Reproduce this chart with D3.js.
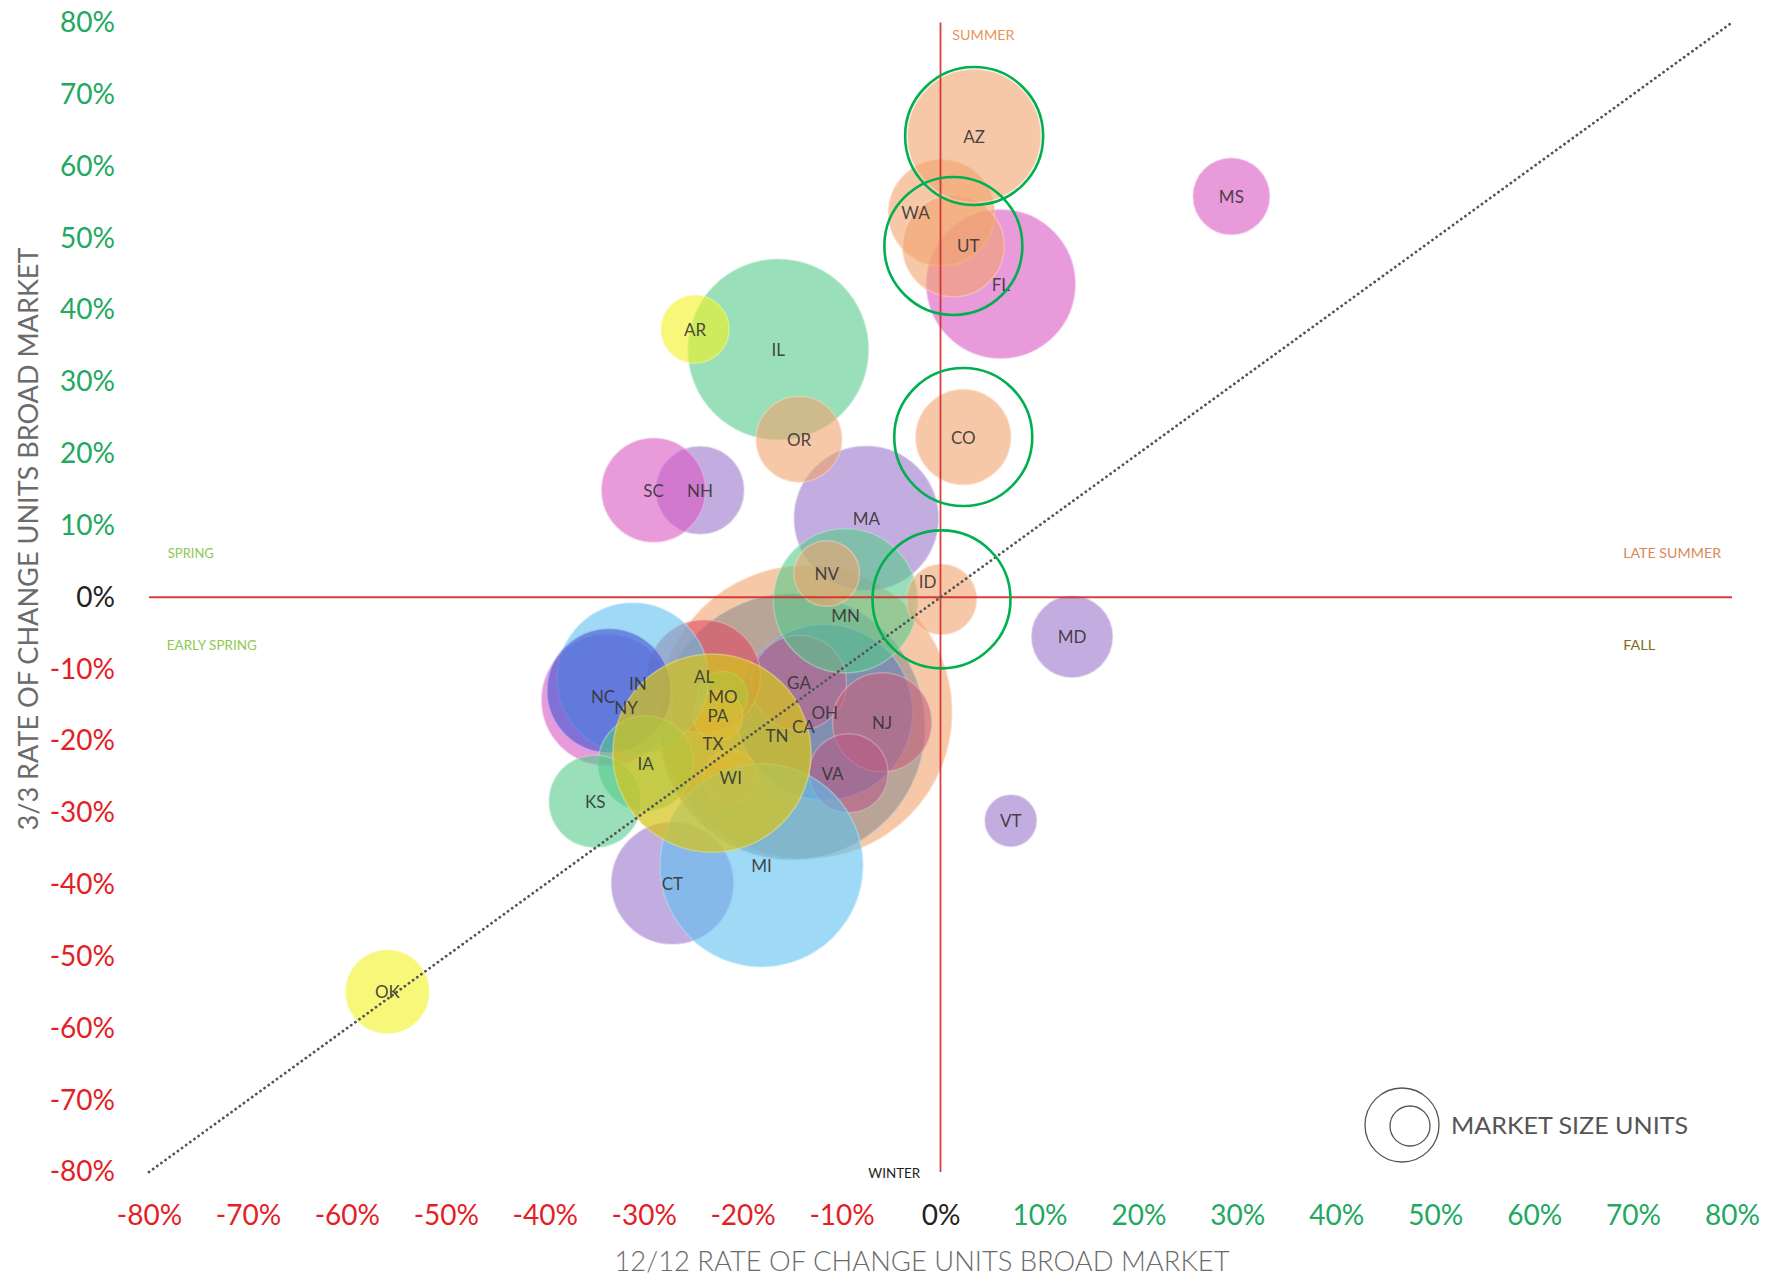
<!DOCTYPE html>
<html>
<head>
<meta charset="utf-8">
<script src="https://cdn.jsdelivr.net/npm/d3@7"></script>
<style>
  body { margin: 0; background: #fff; }
  #chart { font-family: Lato, "Open Sans", sans-serif; }
</style>
</head>
<body>
<div id="chart"></div>
<script>
// state codes, 12/12 change (x, %), 3/3 change (y, %), market size (units, relative)
// listed in paint order (later ones sit on top)
const states = ["CA","TN","OH","GA","NJ","VA","AL","MO","PA","WI",
  "IL","MA","MN","NY","IN","NC","IA","KS","CT","MI","TX",
  "FL","WA","UT","AZ","NV","ID","OR","CO","NH","SC","AR","MS","MD","VT","OK"];
const change12 = [-13.65, -15.0, -11.7, -14.3, -5.9, -9.3, -23.9, -22.0, -22.5, -21.2,
  -16.4, -7.5, -9.6, -33.7, -31.1, -33.5, -29.8, -34.9, -27.1, -18.1, -23.1,
  6.1, 0.1, 1.3, 3.4, -11.5, 0.1, -14.3, 2.3, -24.3, -29.0, -24.8, 29.4, 13.3, 7.1, -55.9];
const change3 = [-16.0, -18.0, -16.0, -11.9, -17.4, -24.5, -11.0, -13.8, -16.5, -25.1,
  34.5, 11.0, -0.5, -14.3, -11.3, -13.0, -23.1, -28.4, -39.8, -37.3, -21.7,
  43.6, 53.5, 48.9, 64.2, 3.3, -0.3, 22.0, 22.3, 14.9, 14.9, 37.3, 55.8, -5.5, -31.1, -54.9];
const marketSize = [83.8, 69.1, 30.2, 8.8, 9.6, 6.1, 12.4, 2.4, 2.4, 2.9,
  31.8, 20.3, 20.3, 16.7, 22.3, 15.0, 8.8, 8.3, 14.5, 40.2, 38.4,
  21.6, 11.0, 10.1, 17.3, 4.2, 4.8, 7.2, 8.8, 7.5, 10.5, 4.5, 5.7, 6.4, 2.6, 6.8];
const highlighted = ["AZ", "UT", "CO", "ID"];
const xTicks = [-80, -70, -60, -50, -40, -30, -20, -10, 0, 10, 20, 30, 40, 50, 60, 70, 80];
const yTicks = [-80, -70, -60, -50, -40, -30, -20, -10, 0, 10, 20, 30, 40, 50, 60, 70, 80];
const seasonNames = ["SUMMER", "SPRING", "EARLY SPRING", "LATE SUMMER", "FALL", "WINTER"];

const palette = {
  peach: "#f2a36c", lavender: "#9b74c9", pink: "#d856c3", mint: "#55c98a", yellow: "#f2f220",
  gold: "#d6c41c", sky: "#5dc1f0", indigo: "#3f55d2", red: "#e04a60", gray: "#8e8e8e",
  steel: "#5a80c0", rose: "#c0608a", wine: "#c8607a", plum: "#b85a85"
};
const paletteOpacity = { gold: 0.72 };
const stateColor = {
  AZ: "peach", MS: "pink", WA: "peach", UT: "peach", FL: "pink", AR: "yellow", IL: "mint", OR: "peach",
  CO: "peach", SC: "pink", NH: "lavender", MA: "lavender", NV: "peach", MN: "mint", ID: "peach",
  MD: "lavender", VT: "lavender", OK: "yellow", CA: "peach", OH: "steel", TX: "gold", MI: "sky",
  CT: "lavender", KS: "mint", IN: "sky", NC: "indigo", NY: "pink", AL: "red", PA: "peach", MO: "mint",
  WI: "peach", IA: "mint", TN: "gray", GA: "rose", NJ: "wine", VA: "plum"
};
// label nudges (px) where the label is not centred on its bubble
const labelNudge = {
  WA: [-26, 0], UT: [15, 0], MN: [0, 15], ID: [-14, -18], CA: [-2, 14], TN: [-15, 9],
  VA: [-16, 0], NY: [19, 8], NC: [-6, 6], TX: [1, -10], IN: [5, 5]
};
const seasonLayout = {
  "SUMMER": { x: 1.2, y: 78.2, w: 62, color: "#e8955a" },
  "SPRING": { x: -78.1, y: 6.1, w: 46, color: "#8fc850" },
  "EARLY SPRING": { x: -78.2, y: -6.7, w: 90, color: "#8fc850" },
  "LATE SUMMER": { x: 69.0, y: 6.1, w: 98, color: "#d9895a" },
  "FALL": { x: 69.0, y: -6.7, w: 32, color: "#7d6e1e" },
  "WINTER": { x: -7.3, y: -80.1, w: 52, color: "#222" }
};

class BubbleChart {
  constructor() {
    this.svg = null;
    this.width = 1767;
    this.height = 1276;
    this.data = [];
  }

  init() {
    var vm = this;
    vm.svg = d3.select("#chart").append("svg")
      .attr("width", vm.width).attr("height", vm.height);
    vm.x = d3.scaleLinear().domain([-80, 80]).range([149, 1732]);
    vm.y = d3.scaleLinear().domain([-80, 80]).range([1172, 22.5]);
    vm.r = d3.scaleSqrt().domain([0, 100]).range([0, 160]);
    vm.data = states.map((s, i) => ({ state: s, x: change12[i], y: change3[i], size: marketSize[i] }));
    vm.render();
  }

  render() {
    var vm = this;
    var x = vm.x, y = vm.y;
    var tickColor = d => d > 0 ? "#22a85f" : d < 0 ? "#e41e26" : "#222";
    var nudge = (d, i) => labelNudge[d.state] ? labelNudge[d.state][i] : 0;
    var colorOf = d => palette[stateColor[d.state]];

    // axes
    var yAxis = vm.svg.append("g").attr("transform", "translate(123,0)")
      .call(d3.axisLeft(y).tickValues(yTicks).tickSize(0).tickPadding(8).tickFormat(d => d + "%"));
    var xAxis = vm.svg.append("g").attr("transform", `translate(0,${y(-80)})`)
      .call(d3.axisBottom(x).tickValues(xTicks).tickSize(0).tickPadding(33).tickFormat(d => d + "%"));
    [yAxis, xAxis].forEach(g => {
      g.select(".domain").remove();
      g.selectAll("text")
        .style("font-family", "Lato, 'Open Sans', sans-serif")
        .style("font-size", "28px")
        .attr("fill", tickColor);
    });

    vm.svg.append("text")
      .attr("transform", "translate(27,539) rotate(-90)")
      .attr("text-anchor", "middle").attr("dominant-baseline", "central")
      .attr("textLength", 583).attr("lengthAdjust", "spacingAndGlyphs")
      .style("font-size", "27px").attr("fill", "#6b6b6b")
      .text("3/3 RATE OF CHANGE UNITS BROAD MARKET");
    vm.svg.append("text")
      .attr("x", 922).attr("y", 1260)
      .attr("text-anchor", "middle").attr("dominant-baseline", "central")
      .attr("textLength", 615).attr("lengthAdjust", "spacingAndGlyphs")
      .style("font-size", "28px").style("font-weight", 300).attr("fill", "#6b6b6b")
      .text("12/12 RATE OF CHANGE UNITS BROAD MARKET");

    // bubbles, in data order
    vm.svg.append("g").selectAll("circle").data(vm.data).join("circle")
      .attr("cx", d => x(d.x)).attr("cy", d => y(d.y)).attr("r", d => vm.r(d.size))
      .attr("fill", colorOf)
      .attr("fill-opacity", d => paletteOpacity[stateColor[d.state]] || 0.6)
      .attr("stroke", d => d3.interpolateRgb("#fff", colorOf(d))(0.45))
      .attr("stroke-opacity", 0.5).attr("stroke-width", 1.5);

    // quadrant axes
    vm.svg.append("line")
      .attr("x1", x(-80)).attr("x2", x(80)).attr("y1", y(0)).attr("y2", y(0))
      .attr("stroke", "#d22a2a").attr("stroke-width", 1.8).attr("stroke-opacity", 0.9);
    vm.svg.append("line")
      .attr("x1", x(0)).attr("x2", x(0)).attr("y1", y(80)).attr("y2", y(-80))
      .attr("stroke", "#d22a2a").attr("stroke-width", 1.8).attr("stroke-opacity", 0.9);

    vm.svg.append("line")
      .attr("x1", x(-80)).attr("y1", y(-80)).attr("x2", x(80)).attr("y2", y(80))
      .attr("stroke", "#555").attr("stroke-width", 2.8)
      .attr("stroke-dasharray", "0.1 5").attr("stroke-linecap", "round");

    // state labels
    vm.svg.append("g").selectAll("text").data(vm.data).join("text")
      .attr("x", d => x(d.x) + nudge(d, 0))
      .attr("y", d => y(d.y) + nudge(d, 1))
      .attr("text-anchor", "middle").attr("dominant-baseline", "central")
      .style("font-size", "17px").attr("fill", "#333").attr("fill-opacity", 0.9)
      .text(d => d.state);

    // green rings on the highlighted markets
    vm.svg.append("g").selectAll("circle")
      .data(vm.data.filter(d => highlighted.includes(d.state))).join("circle")
      .attr("cx", d => x(d.x)).attr("cy", d => y(d.y)).attr("r", 69)
      .attr("fill", "none").attr("stroke", "#00b050").attr("stroke-width", 2.6);

    // season annotations
    vm.svg.append("g").selectAll("text").data(seasonNames).join("text")
      .attr("x", d => x(seasonLayout[d].x)).attr("y", d => y(seasonLayout[d].y))
      .attr("dominant-baseline", "central")
      .attr("textLength", d => seasonLayout[d].w).attr("lengthAdjust", "spacingAndGlyphs")
      .style("font-size", "13px").attr("fill", d => seasonLayout[d].color)
      .text(d => d);

    // size legend
    var lg = vm.svg.append("g");
    lg.append("circle").attr("cx", 1402).attr("cy", 1125).attr("r", 37)
      .attr("fill", "none").attr("stroke", "#555").attr("stroke-width", 1.3);
    lg.append("circle").attr("cx", 1410).attr("cy", 1126).attr("r", 20)
      .attr("fill", "none").attr("stroke", "#555").attr("stroke-width", 1.3);
    lg.append("text").attr("x", 1451).attr("y", 1125)
      .attr("dominant-baseline", "central")
      .attr("textLength", 237).attr("lengthAdjust", "spacingAndGlyphs")
      .style("font-size", "23px").attr("fill", "#555")
      .text("MARKET SIZE UNITS");
  }
}

var chart = new BubbleChart();
chart.init();
</script>
</body>
</html>
